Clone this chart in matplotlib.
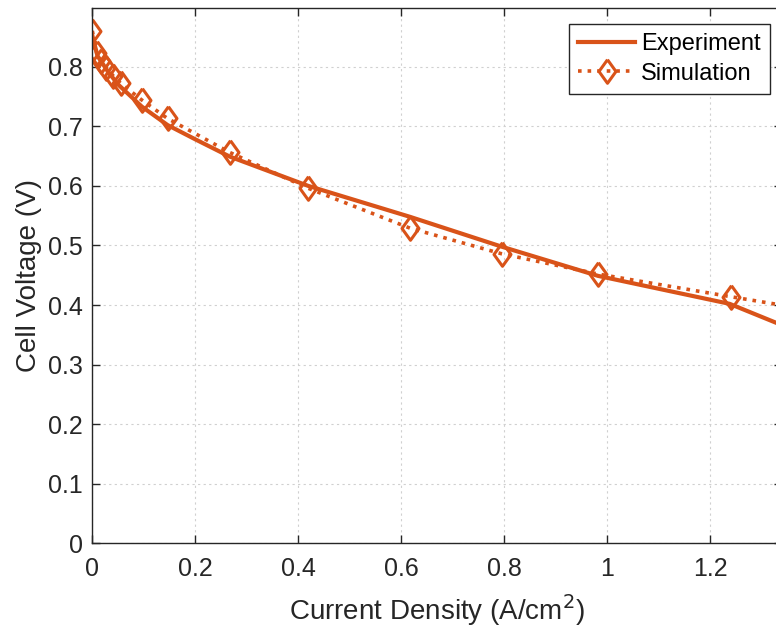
import matplotlib

matplotlib.use("Agg")
import matplotlib.pyplot as plt

# polarization curve data (A/cm^2, V)
exp_current = [0.0, 0.01, 0.03, 0.05, 0.096, 0.146, 0.2, 0.267, 0.419, 0.617, 0.795, 0.982, 1.238, 1.40]
exp_voltage = [0.852, 0.818, 0.792, 0.770, 0.733, 0.702, 0.678, 0.649, 0.600, 0.548, 0.498, 0.449, 0.402, 0.345]

sim_current = [0.0, 0.0085, 0.017, 0.027, 0.04, 0.055, 0.096, 0.146, 0.267, 0.419, 0.617, 0.795, 0.9825, 1.24, 1.50]
sim_voltage = [0.860, 0.822, 0.810, 0.798, 0.785, 0.772, 0.744, 0.713, 0.656, 0.596, 0.529, 0.486, 0.452, 0.414, 0.377]

x_ticks = [0, 0.2, 0.4, 0.6, 0.8, 1.0, 1.2]
x_tick_labels = ["0", "0.2", "0.4", "0.6", "0.8", "1", "1.2"]
y_ticks = [0, 0.1, 0.2, 0.3, 0.4, 0.5, 0.6, 0.7, 0.8]
y_tick_labels = ["0", "0.1", "0.2", "0.3", "0.4", "0.5", "0.6", "0.7", "0.8"]

color = "#D95319"
plt.rcParams["font.family"] = ["Liberation Sans", "DejaVu Sans"]

# slightly tall diamond
diamond = [(0, 1), (0.72, 0), (0, -1), (-0.72, 0), (0, 1)]

fig = plt.figure(figsize=(7.76, 6.35), dpi=100)
ax = fig.add_axes([0.119, 0.1441, 0.889, 0.843])

ax.plot(exp_current, exp_voltage, "-", color=color, linewidth=3, label="Experiment")
ax.plot(
    sim_current,
    sim_voltage,
    ":",
    color=color,
    linewidth=2.6,
    marker=diamond,
    markersize=17,
    markerfacecolor="none",
    markeredgewidth=2.2,
    label="Simulation",
)

ax.set_xlim(0, 1.34)
ax.set_ylim(0, 0.898)
ax.set_xticks(x_ticks)
ax.set_xticklabels(x_tick_labels)
ax.set_yticks(y_ticks)
ax.set_yticklabels(y_tick_labels)

ax.tick_params(
    direction="in", length=6, width=1, colors="#262626", labelsize=18,
    top=True, right=True,
)
ax.tick_params(axis="x", pad=10)
ax.tick_params(axis="y", pad=7)
for spine in ax.spines.values():
    spine.set_color("#262626")
    spine.set_linewidth(1)

ax.grid(True, linestyle=(0, (2, 3)), color="#d0d0d0", linewidth=0.8)
ax.set_axisbelow(True)

ax.set_xlabel("Current Density (A/cm$^2$)", fontsize=20, color="#262626", labelpad=8)
ax.set_ylabel("Cell Voltage (V)", fontsize=20, color="#262626", labelpad=4)

leg = ax.legend(
    loc="upper right",
    bbox_to_anchor=(770 / 776, 1 - 24 / 635),
    bbox_transform=fig.transFigure,
    fontsize=17,
    handlelength=2.4,
    numpoints=1,
    fancybox=False,
    framealpha=1,
    borderpad=0.4,
    labelspacing=0.3,
    handletextpad=0.25,
    borderaxespad=0,
)
leg.get_frame().set_edgecolor("#262626")
leg.get_frame().set_linewidth(1)

fig.savefig("out.png", dpi=100)
